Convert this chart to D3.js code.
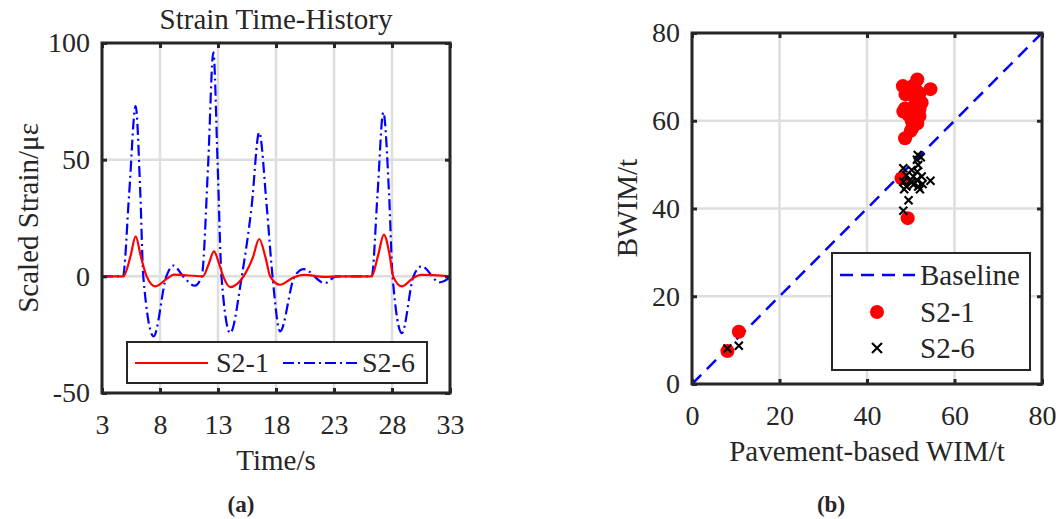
<!DOCTYPE html>
<html>
<head>
<meta charset="utf-8">
<script src="https://cdn.jsdelivr.net/npm/d3@7"></script>
<style>
body { margin: 0; background: #fff; }
text { font-family: "Liberation Serif", "Times New Roman", serif; fill: #262626; }
</style>
</head>
<body>
<svg id="fig" width="1059" height="519"></svg>
<script>
'use strict';

// (a) strain time-history
const s21Time   = [3, 4.85, 5.45, 5.9, 6.35, 6.85, 7.6, 8.6, 9.2, 11.7, 12.2, 12.65, 13.1, 13.45, 14.05, 15.2, 16.0, 16.55, 17.1, 17.5, 18.35, 19.5, 20.4, 22.2, 23.5, 26.25, 26.8, 27.3, 27.8, 28.1, 28.85, 29.8, 30.5, 33];
const s21Strain = [0, 0, 8.5, 17.1, 8.5, 0, -4.3, -1, 0.7, 0, 5.3, 10.7, 5.3, 0, -4.6, 0, 8, 16, 8, 0, -3.6, -0.5, 0.6, -0.2, 0, 0, 9, 17.9, 9, 0, -4.3, -0.8, 0.6, 0];
const s26Time   = [3, 4.8, 5.35, 5.9, 6.3, 6.56, 7.45, 8.55, 9.15, 10.0, 11.0, 11.6, 12.15, 12.6, 12.97, 13.3, 14.05, 15.05, 15.9, 16.55, 17.2, 17.7, 18.35, 19.6, 20.4, 22.2, 23.2, 26.25, 26.75, 27.25, 27.75, 28.05, 28.85, 29.85, 30.55, 32.1, 33];
const s26Strain = [0, 0, 36, 73, 36, 0, -25.7, 0, 4.6, 0, -4, 0, 48, 96, 48, 0, -24.3, 0, 30, 61.7, 30, 0, -23.6, 0, 3.1, -2.9, 0, 0, 35, 70.3, 35, 0, -24.3, 0, 4.3, -2.6, -0.5];
const timeTicks = [3, 8, 13, 18, 23, 28, 33];
const strainTicks = [-50, 0, 50, 100];

// (b) BWIM against pavement-based WIM (t)
const s21Pave = [48.2, 51.5, 50.7, 54.5, 48.8, 52.0, 51.0, 52.5, 48.7, 50.7, 48.3, 49.5, 52.0, 51.5, 50.4, 50.0, 48.7, 47.9, 49.3, 51.2, 52.0, 51.4, 50.2, 10.7, 8.1];
const s21Bwim = [67.9, 69.4, 68.1, 67.2, 66.0, 66.2, 65.1, 64.1, 62.8, 63.2, 62.1, 61.3, 61.1, 59.4, 58.4, 57.7, 56.0, 46.9, 37.8, 67.0, 62.6, 64.8, 60.0, 11.9, 7.5];
const s26Pave = [51.6, 52.3, 51.4, 51.7, 48.3, 50.2, 51.5, 52.5, 49.0, 50.6, 54.5, 48.3, 49.8, 51.4, 52.7, 49.0, 50.6, 51.7, 52.1, 48.5, 49.5, 48.3, 50.2, 8.1, 10.7];
const s26Bwim = [52.2, 51.7, 51.1, 49.9, 49.2, 48.8, 48.4, 47.3, 47.6, 47.3, 46.3, 46.1, 46.3, 46.5, 45.6, 45.0, 45.4, 45.0, 44.4, 44.4, 41.9, 39.5, 46.0, 8.1, 8.7];
const baseline = [0, 80];
const wimTicks = [0, 20, 40, 60, 80];

const RED = "#ff0000", BLUE = "#0000ff", INK = "#262626", GRID = "#dedede";
const svg = d3.select("#fig");

const drawGrid = (g, x, y, xTicks, yTicks) => {
    const [x0, x1] = x.range(), [y1, y0] = y.range();
    g.append("g").selectAll("line").data(xTicks).join("line")
        .attr("x1", d => x(d)).attr("x2", d => x(d)).attr("y1", y0).attr("y2", y1)
        .attr("stroke", GRID).attr("stroke-width", 2.5);
    g.append("g").selectAll("line").data(yTicks).join("line")
        .attr("y1", d => y(d)).attr("y2", d => y(d)).attr("x1", x0).attr("x2", x1)
        .attr("stroke", GRID).attr("stroke-width", 2.5);
};

const drawFrame = (g, x, y, xTicks, yTicks) => {
    const [x0, x1] = x.range(), [y1, y0] = y.range();
    const fmt = d => String(d);   // plain hyphen for negatives, as in the figure
    const style = sel => {
        sel.select(".domain").remove();
        sel.selectAll(".tick line").attr("stroke", INK).attr("stroke-width", 3);
        sel.selectAll(".tick text").attr("fill", INK)
            .style("font-family", '"Liberation Serif", "Times New Roman", serif')
            .style("font-size", "28px");
    };
    g.append("g").attr("transform", `translate(0,${y1})`)
        .call(d3.axisBottom(x).tickValues(xTicks).tickFormat(fmt).tickSizeInner(-5).tickSizeOuter(0).tickPadding(21))
        .call(style);
    g.append("g").attr("transform", `translate(0,${y0})`)
        .call(d3.axisTop(x).tickValues(xTicks).tickSizeInner(-5).tickSizeOuter(0).tickFormat(""))
        .call(style);
    g.append("g").attr("transform", `translate(${x0},0)`)
        .call(d3.axisLeft(y).tickValues(yTicks).tickFormat(fmt).tickSizeInner(-5).tickSizeOuter(0).tickPadding(12))
        .call(style);
    g.append("g").attr("transform", `translate(${x1},0)`)
        .call(d3.axisRight(y).tickValues(yTicks).tickSizeInner(-5).tickSizeOuter(0).tickFormat(""))
        .call(style);
    g.append("rect").attr("x", x0).attr("y", y0).attr("width", x1 - x0).attr("height", y1 - y0)
        .attr("fill", "none").attr("stroke", INK).attr("stroke-width", 3);
};

// ---------- panel (a)
const xa = d3.scaleLinear().domain([3, 33]).range([102, 450]);
const ya = d3.scaleLinear().domain([-50, 100]).range([393, 43]);
const ga = svg.append("g");
drawGrid(ga, xa, ya, timeTicks, strainTicks);

const lineA = d3.line().curve(d3.curveMonotoneX).x(d => xa(d[0])).y(d => ya(d[1]));
ga.append("path").datum(d3.zip(s26Time, s26Strain)).attr("d", lineA)
    .attr("fill", "none").attr("stroke", BLUE).attr("stroke-width", 2.2)
    .attr("stroke-dasharray", "11,4,2,4");
ga.append("path").datum(d3.zip(s21Time, s21Strain)).attr("d", lineA)
    .attr("fill", "none").attr("stroke", RED).attr("stroke-width", 2.2);
drawFrame(ga, xa, ya, timeTicks, strainTicks);

ga.append("text").attr("x", 276).attr("y", 29).attr("text-anchor", "middle")
    .style("font-size", "29px").attr("fill", "#000").text("Strain Time-History");
ga.append("text").attr("x", 276).attr("y", 470).attr("text-anchor", "middle")
    .style("font-size", "29px").text("Time/s");
ga.append("text").attr("transform", "translate(38,218) rotate(-90)").attr("text-anchor", "middle")
    .style("font-size", "29px").text("Scaled Strain/\u03bc\u03b5");

// legend (a)
const la = ga.append("g");
la.append("rect").attr("x", 127).attr("y", 342).attr("width", 300).attr("height", 41)
    .attr("fill", "#fff").attr("stroke", INK).attr("stroke-width", 2);
la.append("line").attr("x1", 135).attr("x2", 208).attr("y1", 363).attr("y2", 363)
    .attr("stroke", RED).attr("stroke-width", 2.2);
la.append("text").attr("x", 216).attr("y", 363).attr("dy", "0.33em").style("font-size", "28px").text("S2-1");
la.append("line").attr("x1", 283).attr("x2", 357).attr("y1", 363).attr("y2", 363)
    .attr("stroke", BLUE).attr("stroke-width", 2.2).attr("stroke-dasharray", "11,4,2,4");
la.append("text").attr("x", 362).attr("y", 363).attr("dy", "0.33em").style("font-size", "28px").text("S2-6");

// ---------- panel (b)
const xb = d3.scaleLinear().domain([0, 80]).range([692, 1042]);
const yb = d3.scaleLinear().domain([0, 80]).range([384, 33]);
const gb = svg.append("g");
drawGrid(gb, xb, yb, wimTicks, wimTicks);

gb.append("line").attr("x1", xb(baseline[0])).attr("y1", yb(baseline[0]))
    .attr("x2", xb(baseline[1])).attr("y2", yb(baseline[1]))
    .attr("stroke", BLUE).attr("stroke-width", 2.5).attr("stroke-dasharray", "13,8");

gb.append("g").selectAll("circle").data(d3.zip(s21Pave, s21Bwim)).join("circle")
    .attr("cx", d => xb(d[0])).attr("cy", d => yb(d[1])).attr("r", 7).attr("fill", RED);

const cross = (sel, s) => sel.attr("d", d => {
    const cx = xb(d[0]), cy = yb(d[1]);
    return `M${cx - s},${cy - s}L${cx + s},${cy + s}M${cx - s},${cy + s}L${cx + s},${cy - s}`;
});
gb.append("g").selectAll("path").data(d3.zip(s26Pave, s26Bwim)).join("path")
    .call(cross, 4).attr("stroke", "#000").attr("stroke-width", 2.1).attr("fill", "none");

drawFrame(gb, xb, yb, wimTicks, wimTicks);

gb.append("text").attr("x", 867).attr("y", 461).attr("text-anchor", "middle")
    .style("font-size", "29px").text("Pavement-based WIM/t");
gb.append("text").attr("transform", "translate(637,208) rotate(-90)").attr("text-anchor", "middle")
    .style("font-size", "29px").text("BWIM/t");

// legend (b)
const lb = gb.append("g");
lb.append("rect").attr("x", 832).attr("y", 253).attr("width", 198).attr("height", 117)
    .attr("fill", "#fff").attr("stroke", INK).attr("stroke-width", 2);
lb.append("line").attr("x1", 840).attr("x2", 915).attr("y1", 275).attr("y2", 275)
    .attr("stroke", BLUE).attr("stroke-width", 2.5).attr("stroke-dasharray", "13,8");
lb.append("text").attr("x", 920).attr("y", 275).attr("dy", "0.33em").style("font-size", "29px").text("Baseline");
lb.append("circle").attr("cx", 877).attr("cy", 312).attr("r", 7).attr("fill", RED);
lb.append("text").attr("x", 920).attr("y", 312).attr("dy", "0.33em").style("font-size", "29px").text("S2-1");
lb.append("path").attr("d", "M872,343L882,353M872,353L882,343")
    .attr("stroke", "#000").attr("stroke-width", 2.1);
lb.append("text").attr("x", 920).attr("y", 348).attr("dy", "0.33em").style("font-size", "29px").text("S2-6");

// panel captions
svg.append("text").attr("x", 241).attr("y", 512).attr("text-anchor", "middle")
    .style("font-size", "23px").style("font-weight", "bold").attr("fill", "#000").text("(a)");
svg.append("text").attr("x", 831).attr("y", 512).attr("text-anchor", "middle")
    .style("font-size", "23px").style("font-weight", "bold").attr("fill", "#000").text("(b)");
</script>
</body>
</html>
